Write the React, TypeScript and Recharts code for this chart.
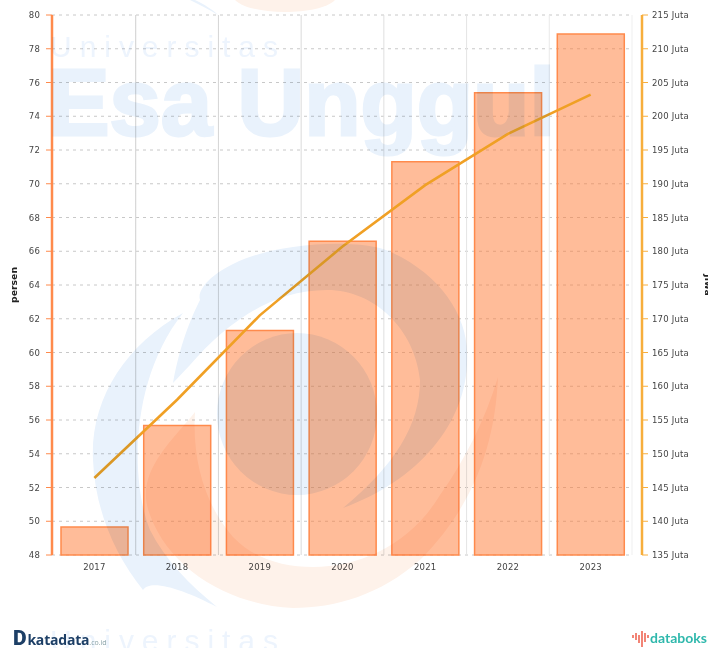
import React from 'react';
import { ComposedChart, Bar, Line, XAxis, YAxis, CartesianGrid } from 'recharts';

const years = ['2017', '2018', '2019', '2020', '2021', '2022', '2023'];
const persenValues = [49.66, 55.67, 61.3, 66.6, 71.3, 75.4, 78.87];
const jiwaValues = [146.4, 158, 170.5, 180.7, 189.8, 197.4, 203.2];
const persenTicks = [48, 50, 52, 54, 56, 58, 60, 62, 64, 66, 68, 70, 72, 74, 76, 78, 80];
const jiwaTicks = [135, 140, 145, 150, 155, 160, 165, 170, 175, 180, 185, 190, 195, 200, 205, 210, 215];

const chartData = years.map((year, i) => ({ year, persen: persenValues[i], jiwa: jiwaValues[i] }));

const tickStyle = { fontSize: 8.5, letterSpacing: 0.2, fontFamily: 'DejaVu Sans', fill: '#444' };
const axisLabelStyle = { fontSize: 9.3, fontWeight: 'bold', fontFamily: 'DejaVu Sans', fill: '#222', textAnchor: 'middle' };

// watermark that sits over the chart, multiplied so the bars darken under it
const Watermark = () => (
  <svg
    width={708}
    height={648}
    style={{ position: 'absolute', left: 0, top: 0, mixBlendMode: 'multiply', pointerEvents: 'none' }}
  >
    <text x={50} y={57} fontFamily="Liberation Sans" fontSize={30} fill="#edf4fd" textLength={228}>
      Universitas
    </text>
    <text
      x={48}
      y={135}
      fontFamily="Liberation Sans"
      fontWeight="bold"
      fontSize={95}
      fill="#e9f2fc"
      stroke="#e9f2fc"
      strokeWidth={3}
      textLength={507}
      lengthAdjust="spacingAndGlyphs"
    >
      Esa Unggul
    </text>
    <text x={50} y={651} fontFamily="Liberation Sans" fontSize={30} fill="#edf4fd" textLength={228}>
      Universitas
    </text>

    <path d="M235 0 C250 16 320 16 335 0 Z" fill="#fef2ea" />
    <path d="M195 0 C205 5 212 9 218 15 C210 10 200 5 190 0 Z" fill="#e9f2fc" />

    <path
      d="M183 313 C125 345 90 400 93 460 C95 510 115 555 143 590 C150 578 185 590 217 607 C190 585 165 560 150 530 C130 480 130 380 183 313 Z"
      fill="#e9f2fc"
    />
    <path
      d="M173 383 C180 345 190 320 200 300 C195 285 230 255 293 247 C340 240 380 245 393 253 C440 275 467 315 467 353 C470 420 420 480 343 508 C395 465 420 425 420 380 C415 330 375 290 327 290 C270 290 225 325 190 365 Z"
      fill="#e9f2fc"
    />
    <ellipse cx={297} cy={414} rx={80} ry={81} fill="#e9f2fc" />

    <path
      d="M498 377 C495 450 470 510 420 560 C380 595 335 608 293 608 C230 605 170 570 150 515 C140 490 150 470 160 455 C170 440 185 425 195 412 C192 460 205 505 233 537 C255 560 285 567 313 567 C360 567 410 545 440 495 C465 460 485 420 498 377 Z"
      fill="#fef2ea"
    />
  </svg>
);

const App = () => {
  return (
    <div
      style={{
        position: 'absolute',
        left: 0,
        top: 0,
        width: 708,
        height: 648,
        overflow: 'hidden',
        background: '#fff',
        filter: 'blur(0.35px)',
      }}
    >
      <ComposedChart
        width={708}
        height={648}
        data={chartData}
        margin={{ top: 15, right: 0, bottom: 68, left: 0 }}
      >
        <defs>
          <linearGradient id="gridFade" gradientUnits="userSpaceOnUse" x1={136} y1={0} x2={632} y2={0}>
            <stop offset="0%" stopColor="#cfcfcf" />
            <stop offset="100%" stopColor="#efefef" />
          </linearGradient>
        </defs>
        <CartesianGrid
          x={52}
          width={580}
          yAxisId="left"
          vertical={false}
          stroke="#c8c8c8"
          strokeDasharray="3 4"
        />
        <CartesianGrid
          yAxisId="left"
          horizontal={false}
          stroke="url(#gridFade)"
          verticalCoordinatesGenerator={({ offset }: any) =>
            years.map((_, i) => offset.left + 1 + ((i + 1) * (offset.width - 11)) / years.length)
          }
        />
        <XAxis
          dataKey="year"
          height={25}
          padding={{ left: 1, right: 10 }}
          tick={tickStyle}
          tickLine={false}
          axisLine={false}
          tickMargin={3}
        />
        <YAxis
          yAxisId="left"
          width={52}
          domain={[48, 80]}
          ticks={persenTicks}
          interval={0}
          tick={tickStyle}
          tickSize={6}
          tickMargin={6}
          tickLine={{ stroke: '#ff8a4c' }}
          axisLine={{ stroke: '#ff8a4c', strokeWidth: 2.5 }}
          label={{ value: 'persen', angle: -90, position: 'insideLeft', offset: 14, style: axisLabelStyle }}
        />
        <YAxis
          yAxisId="right"
          orientation="right"
          width={66}
          domain={[135, 215]}
          ticks={jiwaTicks}
          interval={0}
          tick={tickStyle}
          tickFormatter={(v: number) => `${v} Juta`}
          tickSize={6}
          tickMargin={4}
          tickLine={{ stroke: '#f7ae3c' }}
          axisLine={{ stroke: '#f7ae3c', strokeWidth: 2.5 }}
          label={{ value: 'Jiwa', angle: 90, position: 'insideRight', offset: 0, style: axisLabelStyle }}
        />
        <Bar
          yAxisId="left"
          dataKey="persen"
          barSize={67}
          fill="#ff7a33"
          fillOpacity={0.5}
          stroke="#ff8a4c"
          strokeWidth={1.5}
          isAnimationActive={false}
        />
        <Line
          yAxisId="right"
          dataKey="jiwa"
          type="linear"
          stroke="#f0a025"
          strokeWidth={2.6}
          dot={false}
          isAnimationActive={false}
        />
      </ComposedChart>
      <Watermark />
      <div
        style={{
          position: 'absolute',
          left: 13,
          top: 628,
          fontFamily: 'Open Sans',
          fontWeight: 700,
          color: '#1d3f66',
          fontSize: 14,
          lineHeight: '20px',
          letterSpacing: -0.2,
          whiteSpace: 'nowrap',
        }}
      >
        <span style={{ fontFamily: 'Roboto', fontWeight: 900, fontSize: 21, marginRight: 1 }}>D</span>katadata
        <span style={{ fontSize: 7, fontWeight: 400, color: '#8aa3a8', letterSpacing: 0 }}>.co.id</span>
      </div>
      <div
        style={{
          position: 'absolute',
          left: 650,
          top: 628,
          fontFamily: 'Lato',
          fontWeight: 700,
          color: '#2fb8ac',
          fontSize: 14,
          lineHeight: '20px',
          whiteSpace: 'nowrap',
        }}
      >
        databoks
      </div>
      <svg width={18} height={18} style={{ position: 'absolute', left: 632, top: 630 }}>
        <path d="M1 5V8M4 3V10M7 5V13M10 1V17M13 3V12M16 5V8" stroke="#f0705f" strokeWidth={1.7} fill="none" />
      </svg>
    </div>
  );
};

export default App;
